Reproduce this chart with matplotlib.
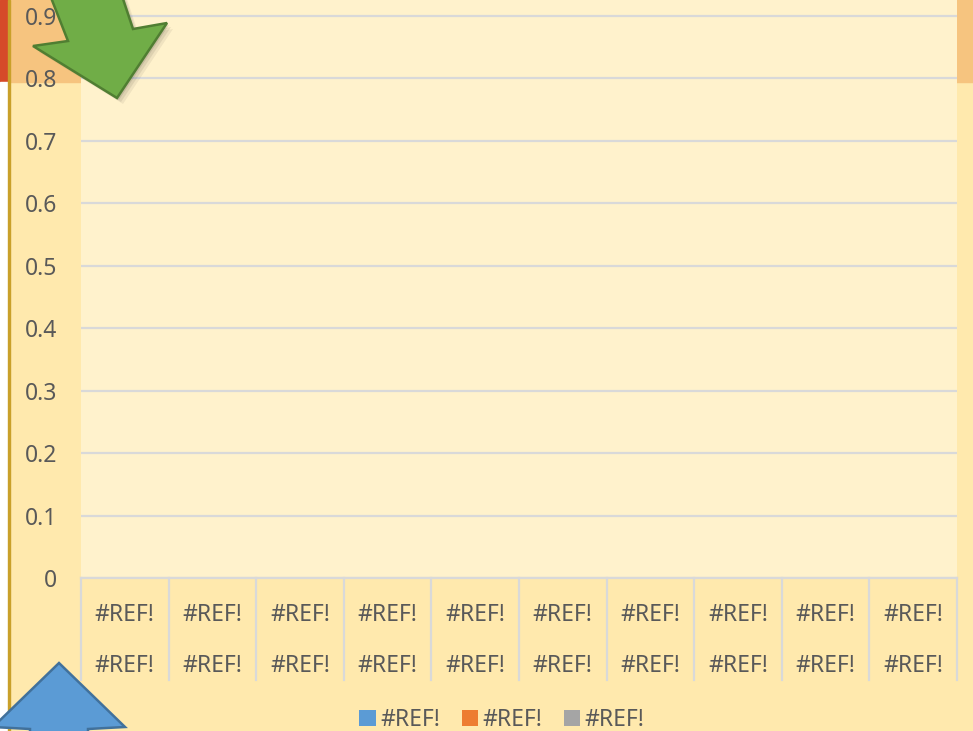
import numpy as np
import matplotlib.pyplot as plt
from matplotlib.patches import Polygon, Rectangle
from matplotlib.transforms import blended_transform_factory

plt.rcParams['font.family'] = ['Noto Sans', 'DejaVu Sans']

# datos (el libro original tiene referencias rotas: todo es #REF!)
cat_outer = ['#REF!'] * 10
cat_inner = ['#REF!'] * 10
series_names = ['#REF!', '#REF!', '#REF!']
series_colors = ['#5B9BD5', '#ED7D31', '#A5A5A5']
values = [[np.nan] * 10 for _ in series_names]
y_ticks = [0, 0.1, 0.2, 0.3, 0.4, 0.5, 0.6, 0.7, 0.8, 0.9]

W, H = 973, 731
txt = '#595959'
grid = '#D9D9D9'


def px(x, y):
    # pixel (origin arriba-izquierda) -> fraccion de figura
    return (x / W, 1 - y / H)


fig = plt.figure(figsize=(W / 100, H / 100), dpi=100, facecolor='#FFE9AD')

# fondos decorativos
fig.patches.append(Rectangle(px(0, 82), 1, 82 / H, transform=fig.transFigure,
                             color='#F6C47F', zorder=-5))
fig.patches.append(Rectangle(px(0, 82), 8 / W, 82 / H, transform=fig.transFigure,
                             color='#D64A29', zorder=-4))
fig.patches.append(Rectangle(px(0, H), 8 / W, (H - 82) / H, transform=fig.transFigure,
                             color='white', zorder=-4))
fig.patches.append(Rectangle(px(8, H), 1.6 / W, 1, transform=fig.transFigure,
                             color='#C9A02A', zorder=-3))

left, right, bottom = 81, 957, 578
ax = fig.add_axes([left / W, 1 - bottom / H, (right - left) / W, bottom / H])
ax.set_facecolor('#FFF2CC')

x = np.arange(len(cat_outer))
n = len(series_names)
w = 0.8 / n
for i, (name, vals, c) in enumerate(zip(series_names, values, series_colors)):
    ax.bar(x + (i - (n - 1) / 2) * w, vals, w, color=c, label=name)

ax.set_xlim(-0.5, len(cat_outer) - 0.5)
ax.set_ylim(0, 0.9 * bottom / (bottom - 16))
ax.set_yticks(y_ticks)
ax.set_yticklabels([f'{v:g}' for v in y_ticks])
ax.set_xticks([])
ax.tick_params(axis='y', length=0, pad=17, labelsize=16.5, labelcolor=txt)
ax.grid(axis='y', color=grid, linewidth=1.6)
ax.set_axisbelow(True)
for s in ['top', 'right', 'left']:
    ax.spines[s].set_visible(False)
ax.spines['bottom'].set_color(grid)
ax.spines['bottom'].set_linewidth(1.6)

# etiquetas de categorias en dos niveles
tr = blended_transform_factory(ax.transData, ax.transAxes)
y1 = (bottom - 615) / bottom
y2 = (bottom - 666) / bottom
yl = (bottom - 680) / bottom
for i in range(len(cat_outer)):
    ax.text(x[i], y1, cat_inner[i], transform=tr, ha='center', va='center',
            fontsize=16.5, color=txt)
    ax.text(x[i], y2, cat_outer[i], transform=tr, ha='center', va='center',
            fontsize=16.5, color=txt)
for b in np.arange(len(cat_outer) + 1) - 0.5:
    ax.plot([b, b], [0, yl], transform=tr, color=grid, lw=1.6, clip_on=False)

leg = fig.legend(loc='center', bbox_to_anchor=px(502, 720), ncol=3, frameon=False,
                 fontsize=16.5, handlelength=0.7, handleheight=0.7,
                 handletextpad=0.2, columnspacing=0.95, labelcolor=txt)

# flechas superpuestas
green = [(48, -10), (68, 41), (33, 46), (117, 98), (167, 23), (133, 29), (120, -10)]
blue = [(59, 663), (125, 727), (88, 729), (88, 760), (30, 760), (30, 729), (-7, 727)]

for off, a in [(6, 0.06), (4, 0.08), (2, 0.1)]:
    fig.patches.append(Polygon([px(u + off, v + off) for u, v in green],
                               transform=fig.transFigure, color='black',
                               alpha=a, lw=0, zorder=9))
fig.patches.append(Polygon([px(u, v) for u, v in green], transform=fig.transFigure,
                           facecolor='#70AD47', edgecolor='#507E32', lw=1.8, zorder=10))
fig.patches.append(Polygon([px(u, v) for u, v in blue], transform=fig.transFigure,
                           facecolor='#5B9BD5', edgecolor='#41719C', lw=1.8, zorder=10))

fig.savefig('out.png', dpi=100, facecolor=fig.get_facecolor())
